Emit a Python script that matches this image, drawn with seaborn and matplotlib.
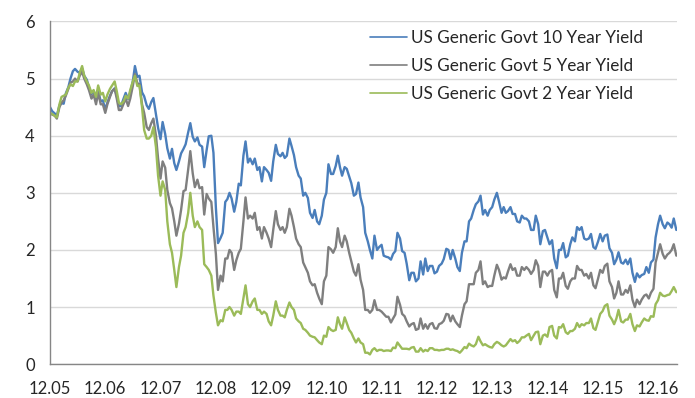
import matplotlib
matplotlib.use("Agg")
import matplotlib.pyplot as plt
import matplotlib.dates as mdates
import matplotlib.lines as mlines
import numpy as np
import pandas as pd
import seaborn as sns

# Semi-monthly observations (1st and 15th), Dec 2005 - Apr 2017
dates = pd.date_range("2005-12-01", "2017-04-01", freq="SMS")

ten_year = [
    4.50, 4.43,
    4.39, 4.35, 4.53, 4.57, 4.56, 4.74, 4.85, 5.00, 5.13, 5.17, 5.12, 5.10,
    5.18, 5.05, 4.98, 4.85, 4.73, 4.78, 4.64, 4.79, 4.60, 4.62, 4.46, 4.58,
    4.70, 4.78, 4.83, 4.70, 4.52, 4.52, 4.65, 4.75, 4.64, 4.76, 4.95, 5.22,
    5.03, 5.05, 4.76, 4.69, 4.53, 4.47, 4.59, 4.66, 4.37, 4.14, 3.94, 4.24,
    4.03, 3.78, 3.60, 3.77, 3.52, 3.40, 3.55, 3.69, 3.77, 3.85, 4.06, 4.22,
    3.98, 3.90, 3.97, 3.84, 3.81, 3.45, 3.75, 3.99, 4.00, 3.70, 2.74, 2.12,
    2.21, 2.30, 2.84, 2.89, 3.00, 2.90, 2.67, 2.84, 3.16, 3.13, 3.65, 3.90,
    3.53, 3.60, 3.50, 3.60, 3.40, 3.45, 3.20, 3.45, 3.40, 3.35, 3.21, 3.55,
    3.84, 3.68, 3.64, 3.70, 3.61, 3.65, 3.95, 3.82, 3.66, 3.45, 3.30, 3.25,
    2.95, 3.00, 2.91, 2.65, 2.56, 2.70, 2.50, 2.45, 2.60, 2.88, 3.00, 3.50,
    3.33, 3.33, 3.47, 3.65, 3.45, 3.30, 3.45, 3.42, 3.29, 3.17, 2.95, 2.98,
    3.18, 2.92, 2.75, 2.30, 2.15, 2.00, 1.85, 2.25, 2.00, 2.05, 2.09, 1.90,
    1.88, 1.87, 1.83, 1.93, 1.98, 2.30, 2.20, 1.98, 1.95, 1.76, 1.47, 1.60,
    1.60, 1.45, 1.50, 1.80, 1.57, 1.85, 1.63, 1.72, 1.72, 1.59, 1.62, 1.72,
    1.76, 1.84, 2.02, 2.00, 1.84, 2.00, 1.85, 1.70, 1.63, 1.95, 2.15, 2.15,
    2.50, 2.55, 2.70, 2.80, 2.85, 2.95, 2.62, 2.70, 2.60, 2.70, 2.75, 2.88,
    3.00, 2.85, 2.65, 2.75, 2.65, 2.68, 2.75, 2.63, 2.63, 2.50, 2.48, 2.60,
    2.55, 2.55, 2.50, 2.35, 2.35, 2.60, 2.45, 2.10, 2.33, 2.35, 2.22, 2.10,
    2.17, 1.85, 1.68, 2.00, 2.00, 2.12, 1.87, 1.90, 2.10, 2.22, 2.15, 2.40,
    2.35, 2.40, 2.20, 2.18, 2.20, 2.28, 2.05, 2.02, 2.15, 2.28, 2.15, 2.25,
    2.27, 2.03, 1.95, 1.75, 1.83, 1.96, 1.78, 1.76, 1.83, 1.75, 1.85, 1.60,
    1.44, 1.59, 1.52, 1.56, 1.58, 1.70, 1.60, 1.78, 1.83, 2.22, 2.45, 2.60,
    2.45, 2.38, 2.48, 2.45, 2.39, 2.55, 2.35,
]

five_year = [
    4.40, 4.37,
    4.35, 4.30, 4.50, 4.58, 4.62, 4.70, 4.82, 4.93, 4.95, 5.00, 4.95, 5.05,
    5.12, 5.00, 4.90, 4.80, 4.65, 4.72, 4.55, 4.75, 4.55, 4.55, 4.40, 4.55,
    4.68, 4.78, 4.82, 4.65, 4.45, 4.45, 4.56, 4.65, 4.52, 4.65, 4.87, 5.08,
    4.92, 4.90, 4.55, 4.40, 4.15, 4.10, 4.22, 4.30, 4.00, 3.60, 3.25, 3.55,
    3.44, 3.05, 2.82, 2.73, 2.50, 2.25, 2.46, 2.70, 3.03, 3.05, 3.41, 3.73,
    3.34, 3.10, 3.23, 3.08, 3.10, 2.62, 2.98, 2.90, 2.84, 2.40, 1.93, 1.30,
    1.55, 1.45, 1.85, 1.85, 2.00, 1.95, 1.65, 1.82, 1.95, 2.02, 2.50, 2.92,
    2.55, 2.60, 2.55, 2.65, 2.35, 2.40, 2.20, 2.40, 2.30, 2.20, 2.05, 2.35,
    2.68, 2.45, 2.35, 2.40, 2.30, 2.40, 2.72, 2.60, 2.40, 2.20, 2.10, 2.05,
    1.78, 1.70, 1.60, 1.45, 1.38, 1.40, 1.25, 1.15, 1.05, 1.45, 1.55, 2.05,
    2.01, 1.95, 2.05, 2.38, 2.15, 2.05, 2.25, 2.15, 1.95, 1.80, 1.62, 1.55,
    1.75, 1.48, 1.30, 0.95, 0.95, 0.90, 0.95, 1.12, 0.95, 0.95, 0.92, 0.88,
    0.83, 0.83, 0.73, 0.80, 0.87, 1.18, 1.04, 0.88, 0.84, 0.75, 0.66, 0.70,
    0.72, 0.60, 0.62, 0.80, 0.62, 0.70, 0.62, 0.70, 0.72, 0.63, 0.62, 0.70,
    0.72, 0.76, 0.88, 0.87, 0.75, 0.85, 0.75, 0.70, 0.65, 0.85, 1.05, 1.10,
    1.40, 1.40, 1.40, 1.60, 1.65, 1.80, 1.40, 1.45, 1.35, 1.37, 1.37, 1.55,
    1.74, 1.65, 1.48, 1.52, 1.50, 1.62, 1.75, 1.65, 1.68, 1.55, 1.55, 1.70,
    1.65, 1.70, 1.65, 1.58, 1.65, 1.82, 1.72, 1.35, 1.62, 1.62, 1.55, 1.62,
    1.65, 1.30, 1.17, 1.50, 1.50, 1.60, 1.37, 1.32, 1.45, 1.50, 1.50, 1.72,
    1.65, 1.65, 1.55, 1.58, 1.50, 1.60, 1.38, 1.33, 1.50, 1.65, 1.60, 1.72,
    1.76, 1.45, 1.35, 1.15, 1.25, 1.45, 1.22, 1.22, 1.30, 1.25, 1.38, 1.13,
    1.00, 1.13, 1.05, 1.13, 1.20, 1.22, 1.15, 1.25, 1.32, 1.78, 1.95, 2.10,
    1.93, 1.85, 1.92, 1.95, 2.00, 2.10, 1.90,
]

two_year = [
    4.40, 4.38,
    4.35, 4.32, 4.55, 4.68, 4.70, 4.72, 4.84, 4.90, 4.87, 4.95, 4.95, 5.10,
    5.22, 5.05, 4.95, 4.88, 4.75, 4.80, 4.68, 4.88, 4.72, 4.75, 4.60, 4.72,
    4.82, 4.88, 4.95, 4.78, 4.58, 4.55, 4.60, 4.70, 4.65, 4.80, 4.95, 5.05,
    4.87, 4.88, 4.50, 4.10, 3.95, 3.95, 4.00, 4.15, 3.80, 3.30, 2.95, 3.20,
    3.05, 2.50, 2.10, 1.95, 1.65, 1.35, 1.70, 1.90, 2.30, 2.40, 2.65, 3.00,
    2.60, 2.40, 2.50, 2.40, 2.35, 1.75, 1.70, 1.65, 1.55, 1.20, 0.90, 0.68,
    0.77, 0.75, 0.95, 0.95, 1.00, 0.95, 0.85, 0.92, 0.92, 0.88, 1.15, 1.38,
    1.05, 1.00, 1.10, 1.15, 0.95, 0.95, 0.88, 0.92, 0.88, 0.75, 0.68, 0.85,
    1.10, 0.95, 0.85, 0.85, 0.82, 0.95, 1.08, 1.00, 0.95, 0.80, 0.75, 0.72,
    0.62, 0.60, 0.55, 0.50, 0.48, 0.47, 0.42, 0.38, 0.35, 0.50, 0.48, 0.65,
    0.60, 0.58, 0.60, 0.82, 0.70, 0.62, 0.82, 0.72, 0.60, 0.55, 0.45, 0.38,
    0.45, 0.38, 0.35, 0.20, 0.20, 0.17, 0.25, 0.28, 0.23, 0.25, 0.25, 0.23,
    0.24, 0.24, 0.23, 0.29, 0.28, 0.38, 0.32, 0.27, 0.27, 0.27, 0.26, 0.29,
    0.30, 0.22, 0.22, 0.28, 0.22, 0.25, 0.23, 0.28, 0.28, 0.25, 0.25, 0.24,
    0.25, 0.25, 0.27, 0.27, 0.25, 0.26, 0.24, 0.23, 0.20, 0.24, 0.30, 0.28,
    0.36, 0.33, 0.31, 0.35, 0.48, 0.40, 0.33, 0.35, 0.32, 0.30, 0.29, 0.35,
    0.39, 0.37, 0.33, 0.31, 0.33, 0.38, 0.44, 0.40, 0.42, 0.37, 0.41, 0.47,
    0.47, 0.50, 0.53, 0.42, 0.50, 0.56, 0.57, 0.35, 0.50, 0.52, 0.48, 0.65,
    0.67, 0.50, 0.45, 0.65, 0.64, 0.70, 0.56, 0.53, 0.58, 0.58, 0.62, 0.72,
    0.65, 0.70, 0.68, 0.72, 0.72, 0.80, 0.63, 0.60, 0.75, 0.88, 0.93, 1.02,
    1.05, 0.85, 0.78, 0.70, 0.80, 0.95, 0.75, 0.73, 0.78, 0.78, 0.88, 0.70,
    0.58, 0.68, 0.66, 0.73, 0.80, 0.77, 0.76, 0.84, 0.83, 1.05, 1.12, 1.25,
    1.20, 1.19, 1.21, 1.22, 1.28, 1.35, 1.26,
]

series_names = [
    "US Generic Govt 10 Year Yield",
    "US Generic Govt 5 Year Yield",
    "US Generic Govt 2 Year Yield",
]
colors = ["#4A7EBB", "#7F7F7F", "#9BBB59"]
tick_dates = pd.date_range("2005-12-01", "2016-12-01", freq="12MS")

df = pd.DataFrame({
    "date": np.tile(dates, 3),
    "yield": ten_year + five_year + two_year,
    "series": np.repeat(series_names, len(dates)),
})

sns.set_theme(style="white")
plt.rcParams["font.family"] = ["Lato", "DejaVu Sans"]

fig = plt.figure(figsize=(6.95, 3.98), dpi=100)
ax = fig.add_axes([0.072, 0.085, 0.902, 0.861])

sns.lineplot(data=df, x="date", y="yield", hue="series",
             hue_order=series_names, palette=colors, linewidth=1.7,
             ax=ax, legend=False)

ax.set_xlim(pd.Timestamp("2005-12-01"), pd.Timestamp("2017-04-05"))
ax.set_ylim(0, 6)
ax.set_yticks(range(0, 7))
ax.set_xticks(tick_dates)
ax.xaxis.set_major_formatter(mdates.DateFormatter("%m.%y"))
ax.set_xlabel("")
ax.set_ylabel("")

ax.grid(axis="y", color="#D9D9D9", linewidth=1.0)
ax.grid(axis="x", visible=False)
for side in ["top", "right"]:
    ax.spines[side].set_visible(False)
for side in ["left", "bottom"]:
    ax.spines[side].set_color("#868686")
    ax.spines[side].set_linewidth(1.0)

ax.tick_params(axis="both", which="major", direction="out", length=5,
               width=1.0, color="#868686", labelsize=12,
               labelcolor="#262626")
ax.tick_params(axis="x", pad=7)
ax.tick_params(axis="y", pad=6)

handles = [mlines.Line2D([], [], color=c, linewidth=1.2) for c in colors]
ax.legend(handles, series_names, loc="upper left",
          bbox_to_anchor=(0.486, 1.021), frameon=False, fontsize=12.3,
          handlelength=2.15, handletextpad=0.25, labelspacing=0.72,
          labelcolor="#262626")

fig.savefig("out.png", dpi=100)
